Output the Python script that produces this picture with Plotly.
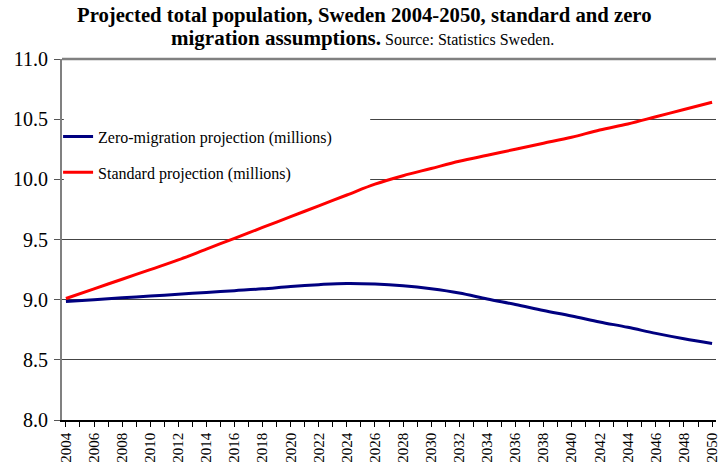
import plotly.graph_objects as go

years = list(range(2004, 2051, 2))
standard = [9.01, 9.09, 9.17, 9.25, 9.33, 9.42, 9.51, 9.60, 9.69, 9.78, 9.87, 9.96,
            10.03, 10.09, 10.15, 10.20, 10.25, 10.30, 10.35, 10.41, 10.46, 10.52, 10.58, 10.64]
zero_migration = [8.985, 9.00, 9.015, 9.03, 9.045, 9.06, 9.075, 9.09, 9.11, 9.125, 9.135, 9.13,
                  9.115, 9.09, 9.055, 9.005, 8.96, 8.91, 8.865, 8.815, 8.77, 8.72, 8.675, 8.635]
tick_years = list(range(2004, 2051, 2))

title_line1 = "Projected total population, Sweden 2004-2050, standard and zero"
title_line2 = "migration assumptions."
source_text = "Source: Statistics Sweden."

FONT = "Liberation Serif, Times New Roman, serif"

fig = go.Figure()
fig.add_trace(go.Scatter(x=years, y=zero_migration, mode="lines",
                         name="Zero-migration projection (millions)",
                         line=dict(color="#000080", width=3, shape="spline"),
                         legend="legend"))
fig.add_trace(go.Scatter(x=years, y=standard, mode="lines",
                         name="Standard projection (millions)",
                         line=dict(color="#FF0000", width=3, shape="spline"),
                         legend="legend2"))

# white box behind legend hiding grid lines
fig.add_shape(type="rect", xref="x", yref="y", x0=2003.85, x1=2025.66, y0=9.93, y1=10.62,
              fillcolor="white", line=dict(width=0), layer="between")
# grey top border of plot area
fig.add_shape(type="line", xref="paper", yref="paper", x0=0, x1=1, y0=1, y1=1,
              line=dict(color="#808080", width=2.5))

fig.add_annotation(text="<b>" + title_line1 + "</b>", xref="paper", yref="paper",
                   x=(366 - 62) / 658, y=1 + (59 - 15) / 363, xanchor="center", yanchor="middle",
                   showarrow=False, font=dict(family=FONT, size=20.7, color="black"))
fig.add_annotation(text="<b>" + title_line2 + "</b><span style='font-size:16px'> " + source_text + "</span>",
                   xref="paper", yref="paper",
                   x=(364 - 62) / 658, y=1 + (59 - 38) / 363, xanchor="center", yanchor="middle",
                   showarrow=False, font=dict(family=FONT, size=21, color="black"))

fig.update_layout(
    width=720, height=463,
    margin=dict(l=62, r=0, t=59, b=41),
    paper_bgcolor="white", plot_bgcolor="white",
    font=dict(family=FONT, color="black"),
    legend=dict(x=-0.006, xanchor="left", y=0.785, yanchor="middle", bgcolor="rgba(0,0,0,0)",
                font=dict(family=FONT, size=16), itemwidth=30),
    legend2=dict(x=-0.006, xanchor="left", y=0.686, yanchor="middle", bgcolor="rgba(0,0,0,0)",
                 font=dict(family=FONT, size=16), itemwidth=30),
    showlegend=True,
)

fig.update_xaxes(
    range=[2003.72, 2050.28],
    tickmode="array", tickvals=tick_years, ticktext=[str(y) for y in tick_years],
    tickangle=-90, tickfont=dict(family=FONT, size=15), ticklabeloverflow="allow",
    ticks="outside", ticklen=5, tickcolor="black",
    minor=dict(dtick=1, tick0=2004, ticks="outside", ticklen=5, tickcolor="black"),
    showline=True, linecolor="black", linewidth=1.5,
    showgrid=False, zeroline=False,
)
fig.update_yaxes(
    range=[8.0, 11.0], dtick=0.5, tick0=8.0, tickformat=".1f",
    tickfont=dict(family=FONT, size=20),
    ticks="outside", ticklen=6, tickcolor="#555", ticklabelstandoff=2,
    showline=True, linecolor="#808080", linewidth=2,
    showgrid=True, gridcolor="#444", gridwidth=1,
    zeroline=False,
)

fig.write_html("out.html", config={"displayModeBar": False},
               post_script="document.body.style.margin='0';document.body.style.padding='0';")
